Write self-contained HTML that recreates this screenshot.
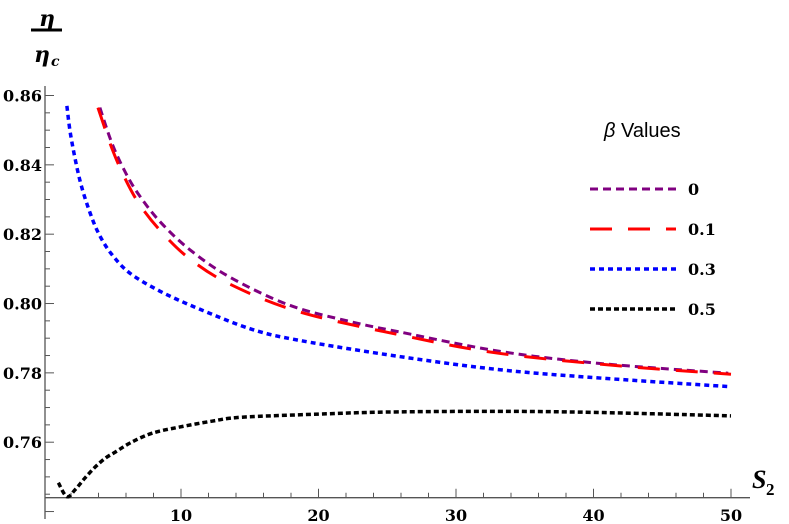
<!DOCTYPE html>
<html><head><meta charset="utf-8">
<style>
html,body{margin:0;padding:0;background:#fff;}
svg{display:block;}
.tk{font-family:"DejaVu Serif","Liberation Serif",serif;font-weight:bold;font-size:16px;fill:#000;}
</style></head>
<body>
<svg id="chart" width="789" height="524" viewBox="0 0 789 524">
<g id="axes"></g>
<g id="series"></g>
<g>
 <text x="47" y="26" font-family="DejaVu Serif,serif" font-weight="bold" font-style="italic" font-size="22" text-anchor="middle">η</text>
 <line x1="31" y1="30" x2="62" y2="30" stroke="#000" stroke-width="3"/>
 <text x="42" y="62" font-family="DejaVu Serif,serif" font-weight="bold" font-style="italic" font-size="22" text-anchor="middle">η</text>
 <text x="51" y="66" font-family="DejaVu Serif,serif" font-weight="bold" font-style="italic" font-size="14">c</text>
</g>
<g>
 <text x="752" y="488" font-family="Liberation Serif,serif" font-weight="bold" font-style="italic" font-size="26">S</text>
 <text x="766" y="495" font-family="Liberation Serif,serif" font-weight="bold" font-size="17">2</text>
</g>
<g id="legend">
 <text x="604" y="137" font-family="Liberation Sans,sans-serif" font-size="20"><tspan font-style="italic">β</tspan> Values</text>
</g>
</svg>
<script>
const xTicks=[10,20,30,40,50];
const yTicks=[0.76,0.78,0.80,0.82,0.84,0.86];
const yTickLabels=["0.76","0.78","0.80","0.82","0.84","0.86"];
const seriesNames=["0","0.1","0.3","0.5"];
const s0X=[4.1,5,6,7,8.5,10.65,13.6,17.9,22.3,25.9,33.2,40.5,49.8];
const s0Y=[0.8565,0.846,0.8375,0.831,0.8235,0.8155,0.8075,0.7995,0.7948,0.7918,0.7862,0.7827,0.7799];
const s1X=[3.96,5,6,7,8.5,10.6,13.6,18.7,26.6,33.2,41.9,50];
const s1Y=[0.8565,0.8445,0.8355,0.8285,0.821,0.813,0.8055,0.7975,0.7904,0.7856,0.782,0.7796];
const s2X=[1.7,2.0,2.65,3.4,4.1,5,6.3,8.5,11.4,15.2,18.7,25.9,33.2,40.5,50];
const s2Y=[0.857,0.848,0.8355,0.826,0.8195,0.814,0.8087,0.8035,0.7983,0.7925,0.7893,0.7847,0.7809,0.7785,0.776];
const s3X=[1.08,1.7,2.3,3.0,3.75,4.5,5.2,6.4,7.9,9.8,12.3,14.4,20,25,33,40,50];
const s3Y=[0.7483,0.7443,0.7463,0.7496,0.7528,0.7554,0.7571,0.76,0.7626,0.7643,0.7661,0.7672,0.7681,0.7687,0.7689,0.7686,0.7676];
const NS="http://www.w3.org/2000/svg";
function xs(s){return 43.5+13.75*s;}
function ys(v){return 95.5+(0.86-v)*3467;}
function mk(t,a,p){const e=document.createElementNS(NS,t);for(const k in a)e.setAttribute(k,a[k]);p.appendChild(e);return e;}
const ax=document.getElementById('axes');
const AXY=497.7;
let l=mk('line',{x1:45,y1:86,x2:45,y2:519,stroke:'#555','stroke-width':1.3},ax);


l=mk('line',{x1:45,y1:AXY,x2:750,y2:AXY,stroke:'#555','stroke-width':1.3},ax);


for(let k=0;k<=24;k++){const v=0.74+k*0.005;const y=ys(v);const maj=k%4===0;
 mk('line',{x1:45,y1:y,x2:maj?54:50,y2:y,stroke:'#555','stroke-width':1},ax);}
for(let s=2;s<=50;s+=2){const x=xs(s);const maj=s%10===0;mk('line',{x1:x,y1:AXY,x2:x,y2:AXY-(maj?9:5),stroke:'#555','stroke-width':1},ax);}
xTicks.forEach(t=>{const e=mk('text',{x:xs(t),y:521,'text-anchor':'middle',class:'tk'},ax);e.textContent=t;
 
 });
yTicks.forEach((t,i)=>{const e=mk('text',{x:42,y:ys(t)+6,'text-anchor':'end',class:'tk'},ax);e.textContent=yTickLabels[i];
 
 });
const styles=[{c:'#800080',d:'8,5',w:3},{c:'#ff0000',d:'22,16',w:3},{c:'#0000ff',d:'5,4',w:3.5},{c:'#000',d:'5,3',w:3.5}];
const XS=[s0X,s1X,s2X,s3X],YS=[s0Y,s1Y,s2Y,s3Y];
const sg=document.getElementById('series');
function path(X,Y){const p=X.map((x,i)=>[xs(x),ys(Y[i])]);let d='M'+p[0][0]+','+p[0][1];
 for(let i=0;i<p.length-1;i++){const p0=p[i-1]||p[i],p1=p[i],p2=p[i+1],p3=p[i+2]||p2;
 const c1=[p1[0]+(p2[0]-p0[0])/6,p1[1]+(p2[1]-p0[1])/6],c2=[p2[0]-(p3[0]-p1[0])/6,p2[1]-(p3[1]-p1[1])/6];
 d+=`C${c1[0]},${c1[1]} ${c2[0]},${c2[1]} ${p2[0]},${p2[1]}`;}return d;}
const lg=document.getElementById('legend');
seriesNames.forEach((n,i)=>{const st=styles[i];
 const e=mk('path',{d:path(XS[i],YS[i]),fill:'none',stroke:st.c,'stroke-width':st.w,'stroke-dasharray':st.d},sg);
 
 
 const y=189+i*40;
 const g=mk('g',{},lg);
 
 
 mk('line',{x1:590,y1:y,x2:676,y2:y,stroke:st.c,'stroke-width':st.w,'stroke-dasharray':st.d},g);
 const t=mk('text',{x:688,y:y+6,class:'tk'},g);t.textContent=n;});
</script>
</body></html>
